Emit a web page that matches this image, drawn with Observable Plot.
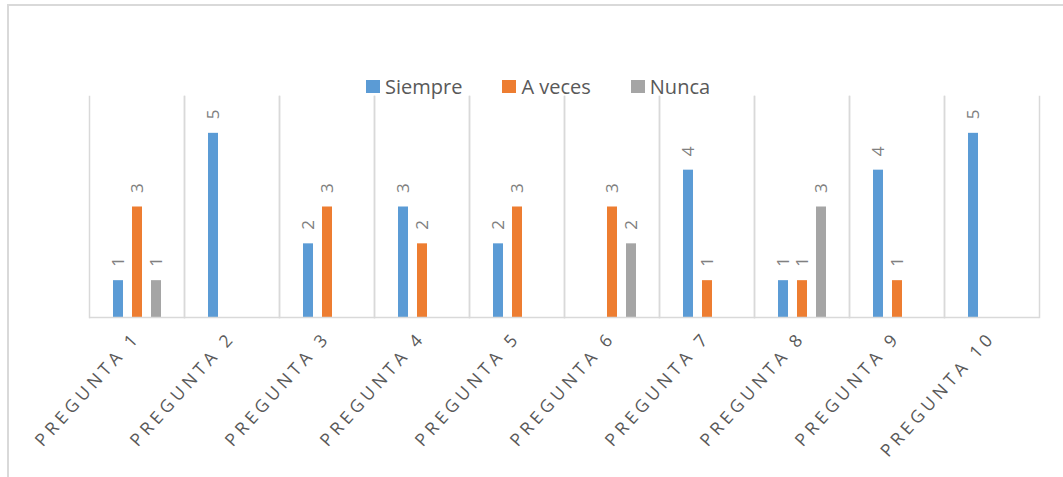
<!DOCTYPE html>
<html><head><meta charset="utf-8">
<script src="https://cdn.jsdelivr.net/npm/d3@7"></script>
<script src="https://cdn.jsdelivr.net/npm/@observablehq/plot@0.6"></script>
<style>
body{margin:0;background:#fff;font-family:"Open Sans",sans-serif;}
#wrap{position:relative;width:1063px;height:477px;overflow:hidden;}
#border{position:absolute;left:7px;top:4px;width:1100px;height:500px;border-top:2px solid #d9d9d9;border-left:2px solid #d9d9d9;}
#legend{position:absolute;left:366px;top:73px;display:flex;align-items:center;font-size:20px;color:#595959;line-height:27px;}
.item{display:flex;align-items:center;margin-right:40px}
.sw{width:14px;height:13px;margin-right:5px}
#chart{position:absolute;left:0;top:0}
svg [aria-label^="fx-axis"] text{letter-spacing:4.2px}
</style>
</head><body>
<div id="wrap"><div id="border"></div><div id="chart"></div><div id="legend"></div></div>
<script>
const categories = ["PREGUNTA 1","PREGUNTA 2","PREGUNTA 3","PREGUNTA 4","PREGUNTA 5","PREGUNTA 6","PREGUNTA 7","PREGUNTA 8","PREGUNTA 9","PREGUNTA 10"];
const seriesNames = ["Siempre","A veces","Nunca"];
const seriesColors = ["#5b9bd5","#ed7d31","#a5a5a5"];
const siempre = [1,5,2,3,2,0,4,1,4,5];
const aVeces  = [3,0,3,2,3,3,1,1,1,0];
const nunca   = [1,0,0,0,0,2,0,3,0,0];

const seriesValues = [siempre, aVeces, nunca];
const rows = [];
categories.forEach((c, i) => seriesNames.forEach((s, j) => rows.push({q: c, s, v: seriesValues[j][i]})));
const shown = rows.filter(d => d.v > 0);

const chart = Plot.plot({
  width: 1063, height: 477,
  marginLeft: 87, marginRight: 22, marginTop: 96, marginBottom: 160,
  style: {fontFamily: "'Open Sans', sans-serif", fontSize: "17.5px", color: "#595959", background: "transparent"},
  fx: {domain: categories, padding: 0, axis: "bottom", label: null, tickSize: 0, tickPadding: 17, tickRotate: -48},
  x: {domain: seriesNames, paddingInner: 0.475, paddingOuter: 1.12, axis: null},
  y: {domain: [0, 6], axis: null},
  color: {domain: seriesNames, range: seriesColors},
  marks: [
    Plot.frame({anchor: "left", stroke: "#d9d9d9", strokeWidth: 1.5}),
    Plot.frame({anchor: "right", stroke: "#d9d9d9", strokeWidth: 1.5}),
    Plot.barY(shown, {fx: "q", x: "s", y: "v", fill: "s"}),
    Plot.ruleY([0], {stroke: "#d9d9d9", strokeWidth: 1.5}),
    Plot.text(shown, {fx: "q", x: "s", y: "v", text: d => String(d.v), rotate: -90, textAnchor: "start", dy: -14, fill: "#808080", fontSize: 17})
  ]
});
document.getElementById("chart").appendChild(chart);

const legend = document.getElementById("legend");
seriesNames.forEach((s, i) => {
  const it = document.createElement("div");
  it.className = "item";
  const sw = document.createElement("span");
  sw.className = "sw";
  sw.style.background = seriesColors[i];
  const t = document.createElement("span");
  t.textContent = s;
  it.appendChild(sw); it.appendChild(t);
  legend.appendChild(it);
});
</script>
</body></html>
